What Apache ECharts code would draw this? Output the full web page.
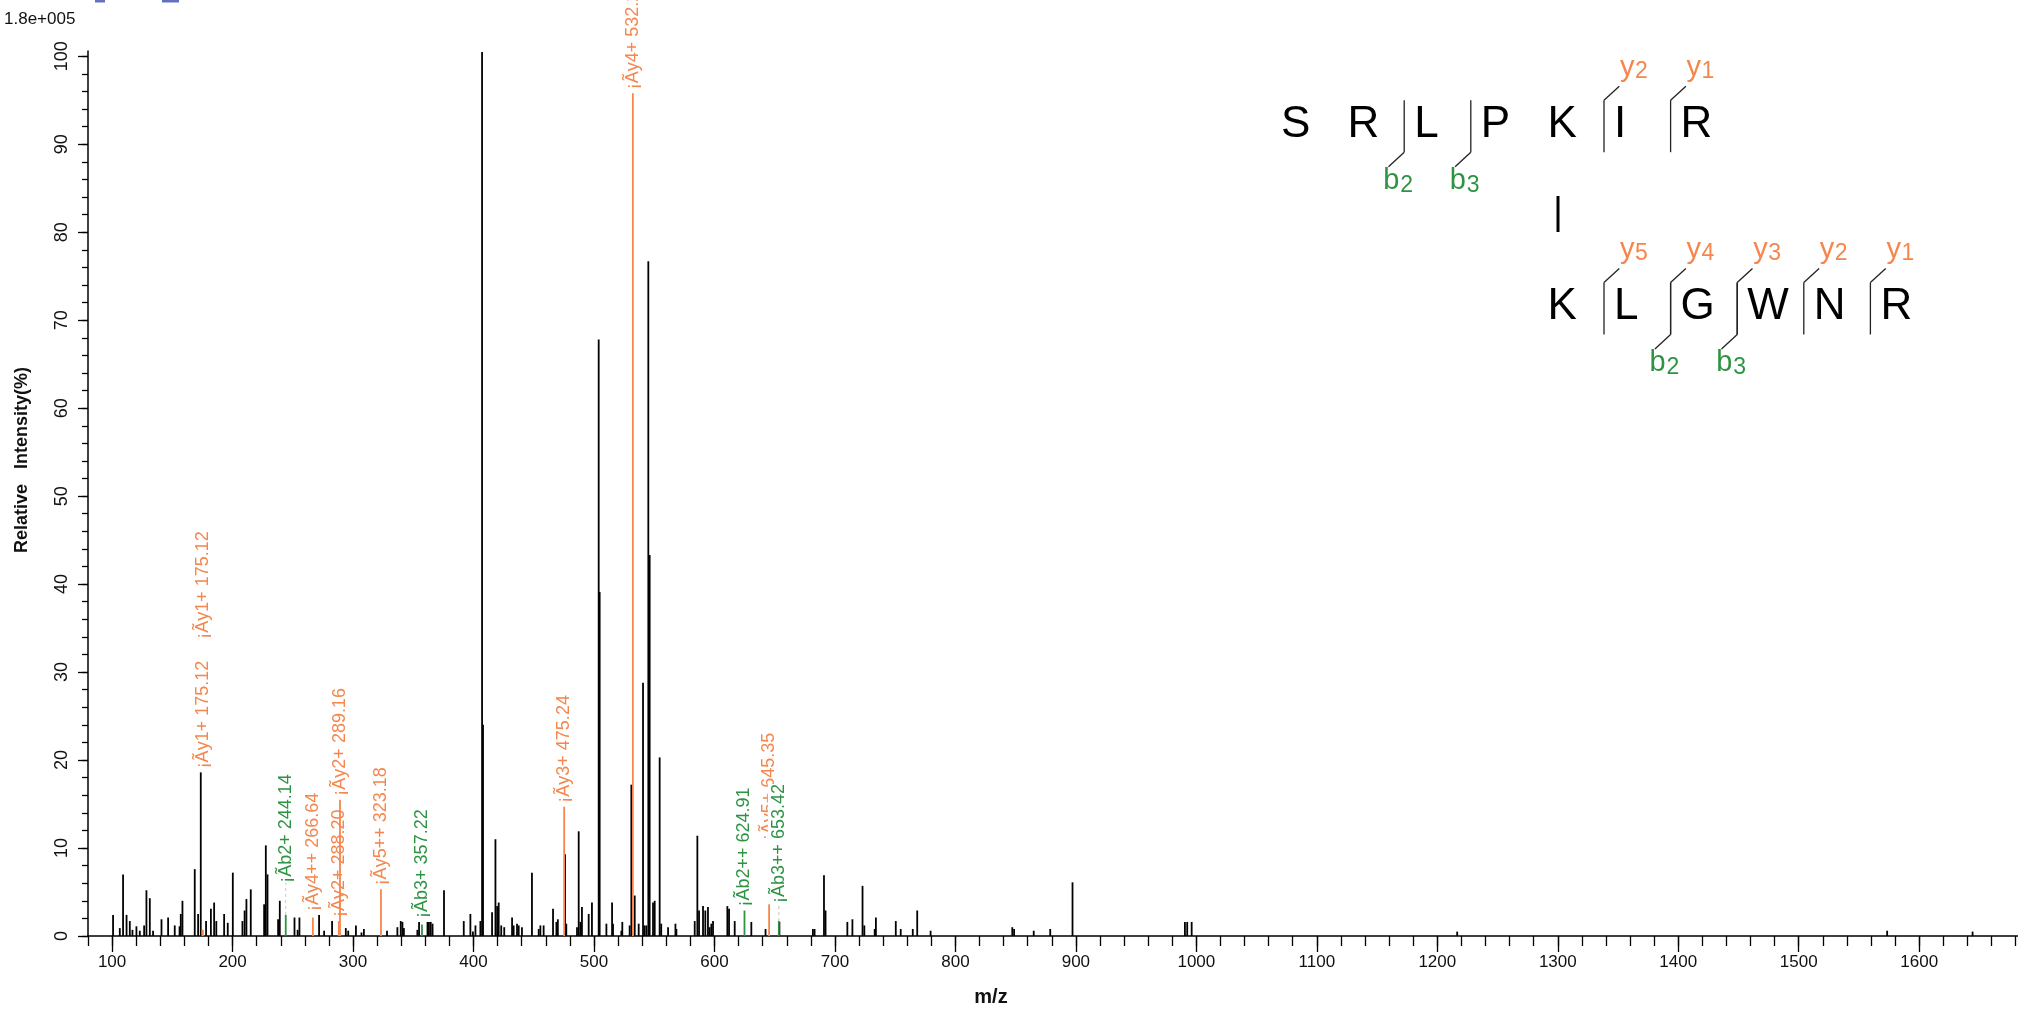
<!DOCTYPE html>
<html>
<head>
<meta charset="utf-8">
<script src="https://cdn.jsdelivr.net/npm/echarts@6/dist/echarts.min.js"></script>
<style>
html,body{margin:0;padding:0;background:#fff;}
#chart{width:2018px;height:1010px;}
</style>
</head>
<body>
<div id="chart"></div>
<script>
// ---------------- DATA ----------------
// unannotated (black) peaks: m/z and relative intensity (%)
const peakMz = [
  100.8,106.4,109.1,112.0,114.7,116.9,120.2,123.0,126.6,128.5,
  131.3,134.0,141.0,146.5,152.0,156.0,157.0,158.4,168.6,171.4,
  173.6,178.0,182.0,184.7,186.5,193.0,196.0,200.2,208.2,210.0,
  211.5,215.1,226.2,227.6,229.0,237.8,239.2,251.4,254.0,255.5,
  271.8,276.0,282.6,294.0,296.0,302.4,307.0,309.0,328.2,336.8,
  339.6,341.0,342.2,353.4,354.8,361.8,363.0,364.5,366.0,375.5,
  391.9,397.4,399.5,401.6,405.7,407.1,407.9,415.4,418.2,419.6,
  420.9,423.0,425.5,432.0,433.3,436.1,437.5,440.2,448.5,454.1,
  455.5,458.2,466.0,468.8,470.0,476.0,477.0,485.9,487.3,488.7,
  490.0,495.6,498.3,503.9,504.7,510.3,515.0,515.8,522.7,523.5,
  529.6,531.0,533.8,537.1,540.7,542.0,543.5,545.1,546.2,549.0,
  550.4,554.5,555.8,561.5,567.6,568.4,583.6,585.8,587.2,590.5,
  592.4,594.6,596.0,597.4,598.8,610.7,612.1,616.8,630.6,642.4,
  653.9,681.7,683.1,690.9,692.2,710.3,714.5,722.9,724.4,733.0,
  734.0,750.5,754.6,764.6,768.3,779.4,847.2,848.7,865.0,878.7,
  897.2,990.5,992.4,996.1,1216.5,1573.4,1644.3
];
const peakIntensity = [
  2.4,0.9,7.0,2.4,1.7,0.7,1.1,0.6,1.2,5.2,
  4.3,0.6,1.9,2.1,1.2,1.1,2.5,4.0,7.6,2.5,
  18.6,1.7,3.1,3.8,1.7,2.5,1.5,7.2,1.7,2.9,
  4.2,5.3,3.6,10.3,7.0,1.9,4.0,2.1,0.7,2.1,
  2.4,0.6,1.7,0.9,0.6,1.2,0.4,0.8,0.6,1.0,
  1.7,1.6,0.9,0.7,1.6,1.6,1.6,1.6,1.4,5.2,
  1.7,2.5,0.5,1.2,1.7,100.5,24.0,2.7,11.0,3.4,
  3.8,1.2,1.0,2.1,1.2,1.4,1.2,1.0,7.2,0.8,
  1.2,1.2,3.1,1.6,1.9,9.3,1.4,1.0,11.9,1.6,
  3.3,2.5,3.8,67.8,39.1,1.4,3.8,1.4,0.6,1.6,
  1.2,17.2,4.6,1.4,28.8,1.2,1.2,76.7,43.3,3.8,
  4.0,20.3,1.4,1.0,1.4,0.8,1.7,11.4,2.9,3.4,
  2.9,3.3,1.0,1.4,1.7,3.4,3.1,1.7,1.6,0.8,
  1.6,0.8,0.8,6.9,2.9,1.6,1.9,5.7,1.2,0.8,
  2.1,1.7,0.8,0.8,2.9,0.6,1.0,0.8,0.6,0.8,
  6.1,1.6,1.6,1.6,0.5,0.6,0.5
];

// annotated fragment ions
const annMz        = [175.12, 175.12, 244.14, 266.64, 288.20, 289.16, 323.18, 357.22, 475.24, 532.26, 624.91, 645.35, 653.42];
const annIntensity = [0.7, 0.7, 2.4, 2.1, 1.7, 15.5, 5.3, 1.3, 14.7, 95.8, 2.9, 3.6, 1.7];
const annIon       = ['y','y','b','y','y','y','y','b','y','y','b','y','b'];
const annLabel     = ['¡Ãy1+ 175.12','¡Ãy1+ 175.12','¡Ãb2+ 244.14','¡Ãy4++ 266.64','¡Ãy2+ 288.20','¡Ãy2+ 289.16',
                      '¡Ãy5++ 323.18','¡Ãb3+ 357.22','¡Ãy3+ 475.24','¡Ãy4+ 532.26','¡Ãb2++ 624.91','¡Ãy5+ 645.35','¡Ãb3++ 653.42'];

// axis ticks
const xMajorTicks = [100,200,300,400,500,600,700,800,900,1000,1100,1200,1300,1400,1500,1600];
const yMajorTicks = [0,10,20,30,40,50,60,70,80,90,100];

// peptide sequences (cross-linked)
const chainA = ['S','R','L','P','K','I','R'];
const chainB = ['K','L','G','W','N','R'];
const chainACuts = [{pos:2,ion:'b',n:'2'},{pos:3,ion:'b',n:'3'},{pos:5,ion:'y',n:'2'},{pos:6,ion:'y',n:'1'}];
const chainBCuts = [{pos:1,ion:'y',n:'5'},{pos:2,ion:'y',n:'4'},{pos:2,ion:'b',n:'2'},{pos:3,ion:'y',n:'3'},
                    {pos:3,ion:'b',n:'3'},{pos:4,ion:'y',n:'2'},{pos:5,ion:'y',n:'1'}];

// ---------------- STYLE / LAYOUT ----------------
const ORANGE = '#F4864E';
const GREEN = '#2E9444';
const ION_COLOR = {y: ORANGE, b: GREEN};
const FONT = '"Liberation Sans", Arial, sans-serif';
const LABEL_FONT_SIZE = 18;
const LABEL_GAP = 4;
const LABEL_LIFT = {'¡Ãb2+ 244.14': 14, '¡Ãy5+ 645.35': 60, '¡Ãb3++ 653.42': 14};

const xMinorTicks = [];
for (let v = 80; v <= 1680; v += 20) xMinorTicks.push(v);
const yMinorTicks = [];
for (let v = 0; v <= 100; v += 2) yMinorTicks.push(v);

const measureCtx = document.createElement('canvas').getContext('2d');
measureCtx.font = LABEL_FONT_SIZE + 'px ' + FONT;
function textLen(t) { return measureCtx.measureText(t).width; }

function labelBottom(i, api) {
  if (i > 0 && annMz[i - 1] === annMz[i]) {
    return labelBottom(i - 1, api) - textLen(annLabel[i - 1]) - 22;
  }
  const x = api.coord([annMz[i], 0])[0];
  let top = api.coord([annMz[i], annIntensity[i]])[1];
  for (let j = 0; j < peakMz.length; j++) {
    const px = api.coord([peakMz[j], 0])[0];
    if (Math.abs(px - x) <= 8) top = Math.min(top, api.coord([peakMz[j], peakIntensity[j]])[1]);
  }
  return top - LABEL_GAP - (LABEL_LIFT[annLabel[i]] || 0);
}

// sequence graphic
const SEQ_X0 = 1281, PITCH = 66.6, ROW1_BASE = 140.2, ROW2_BASE = 322.5, LETTER_SIZE = 44;
const ION_SIZE = 29, ION_DIGIT_SIZE = 23;
function txt(x, baseline, text, size, color, weight) {
  return {type:'text', x:x, y:baseline - 0.3465 * size, z:10,
    style:{text:text, fill:color, font:(weight||'normal') + ' ' + size + 'px ' + FONT, align:'left', verticalAlign:'middle'}};
}
function seqGraphics() {
  const g = [];
  const rows = [{seq:chainA, cuts:chainACuts, base:ROW1_BASE, off:0},{seq:chainB, cuts:chainBCuts, base:ROW2_BASE, off:4}];
  rows.forEach(r => {
    r.seq.forEach((ch, i) => g.push(txt(SEQ_X0 + (r.off + i) * PITCH, r.base, ch, LETTER_SIZE, '#000')));
    r.cuts.forEach(c => {
      const lx = SEQ_X0 + (r.off + c.pos) * PITCH - 10;
      const B = r.base;
      g.push({type:'line', z:10, shape:{x1:lx, y1:B - 40, x2:lx, y2:B + 12}, style:{stroke:'#222', lineWidth:1.3}});
      const col = ION_COLOR[c.ion];
      if (c.ion === 'b') {
        g.push({type:'line', z:10, shape:{x1:lx, y1:B + 12, x2:lx - 15.7, y2:B + 26.5}, style:{stroke:'#222', lineWidth:1.3}});
        g.push(txt(lx - 21, B + 51, 'b', ION_SIZE, col));
        g.push(txt(lx - 4, B + 53, c.n, ION_DIGIT_SIZE, col));
      } else {
        g.push({type:'line', z:10, shape:{x1:lx, y1:B - 40, x2:lx + 15.3, y2:B - 54}, style:{stroke:'#222', lineWidth:1.3}});
        g.push(txt(lx + 16, B - 62, 'y', ION_SIZE, col));
        g.push(txt(lx + 31, B - 60.5, c.n, ION_DIGIT_SIZE, col));
      }
    });
  });
  // cross-link bar
  g.push({type:'line', z:10, shape:{x1:1558, y1:196, x2:1558, y2:232}, style:{stroke:'#000', lineWidth:3}});
  return g;
}

const chart = echarts.init(document.getElementById('chart'), null, {renderer:'canvas'});
const axisLineStyle = {color:'#000', width:1.5};
const tickLineStyle = {color:'#000', width:1.3};
const plain = v => String(v);

const option = {
  animation: false,
  backgroundColor: '#fff',
  grid: {left: 88, right: 0, top: 51, bottom: 74, containLabel: false},
  xAxis: [
    {type:'value', min:80, max:1682, position:'bottom',
     axisLine:{show:true, onZero:false, lineStyle:axisLineStyle},
     axisTick:{show:true, customValues:xMinorTicks, length:10, lineStyle:tickLineStyle},
     axisLabel:{show:false}, splitLine:{show:false}},
    {type:'value', min:80, max:1682, position:'bottom',
     axisLine:{show:false, onZero:false},
     axisTick:{show:true, customValues:xMajorTicks, length:16, lineStyle:tickLineStyle},
     axisLabel:{show:true, customValues:xMajorTicks, formatter:plain, margin:18, fontSize:17, color:'#111', fontFamily:FONT},
     splitLine:{show:false}}
  ],
  yAxis: [
    {type:'value', min:0, max:100.6, position:'left',
     axisLine:{show:true, onZero:false, lineStyle:axisLineStyle},
     axisTick:{show:true, customValues:yMinorTicks, length:6, lineStyle:tickLineStyle},
     axisLabel:{show:false}, splitLine:{show:false}},
    {type:'value', min:0, max:100.6, position:'left',
     axisLine:{show:false, onZero:false},
     axisTick:{show:true, customValues:yMajorTicks, length:10, lineStyle:tickLineStyle},
     axisLabel:{show:true, customValues:yMajorTicks, formatter:plain, rotate:90, margin:17, fontSize:18, color:'#111', fontFamily:FONT},
     splitLine:{show:false}}
  ],
  series: [
    {type:'custom', name:'peaks', xAxisIndex:0, yAxisIndex:0, z:2, clip:false,
     data: peakMz.map((m, i) => [m, peakIntensity[i]]),
     renderItem: (params, api) => {
       const p0 = api.coord([api.value(0), 0]);
       const p1 = api.coord([api.value(0), api.value(1)]);
       return {type:'line', shape:{x1:p0[0], y1:p0[1], x2:p1[0], y2:p1[1]}, style:{stroke:'#000', lineWidth:1.8}};
     }},
    {type:'custom', name:'annotated', xAxisIndex:0, yAxisIndex:0, z:3, clip:false,
     data: annMz.map((m, i) => [m, annIntensity[i]]),
     renderItem: (params, api) => {
       const i = params.dataIndex;
       const color = ION_COLOR[annIon[i]];
       const p0 = api.coord([annMz[i], 0]);
       const p1 = api.coord([annMz[i], annIntensity[i]]);
       const bottom = labelBottom(i, api);
       const children = [{type:'line', shape:{x1:p0[0], y1:p0[1], x2:p1[0], y2:p1[1]}, style:{stroke:color, lineWidth:1.8}}];
       if (LABEL_LIFT[annLabel[i]] && annIon[i] === 'b') {
         children.push({type:'line', shape:{x1:p0[0], y1:p1[1], x2:p0[0], y2:bottom}, style:{stroke:'#c4c4c4', lineWidth:1, lineDash:[3,3]}});
       }
       children.push({type:'text', x:p0[0], y:bottom, rotation:Math.PI / 2,
         style:{text:annLabel[i], fill:color, font:LABEL_FONT_SIZE + 'px ' + FONT, align:'left', verticalAlign:'middle',
                backgroundColor:'#fff', padding:[3, 0, 1, 0]}});
       return {type:'group', children:children};
     }}
  ],
  graphic: [
    {type:'text', left:4, top:11, style:{text:'1.8e+005', fill:'#111', font:'17px ' + FONT}},
    {type:'text', x:22, y:460, rotation:Math.PI / 2,
     style:{text:'Relative   Intensity(%)', fill:'#111', font:'bold 18px ' + FONT, align:'center', verticalAlign:'middle'}},
    {type:'text', x:991, y:997, style:{text:'m/z', fill:'#111', font:'bold 20px ' + FONT, align:'center', verticalAlign:'middle'}},
    {type:'rect', shape:{x:95, y:0, width:10, height:2.5}, style:{fill:'#6670C0'}},
    {type:'rect', shape:{x:162, y:0, width:17, height:2.5}, style:{fill:'#6670C0'}}
  ].concat(seqGraphics())
};
chart.setOption(option);
</script>
</body>
</html>
